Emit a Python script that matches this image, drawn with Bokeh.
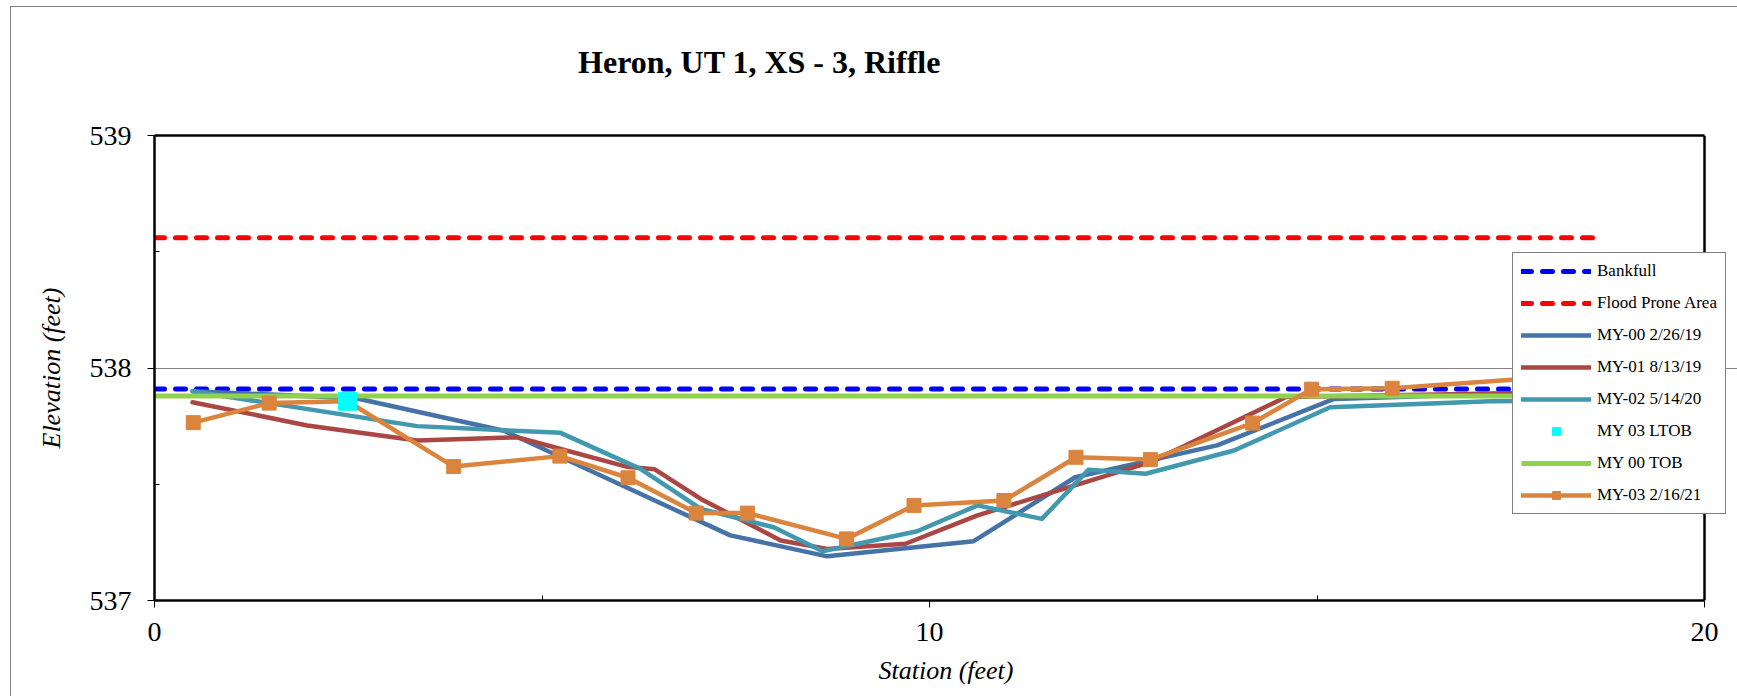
from bokeh.plotting import figure
from bokeh.layouts import column
from bokeh.models import (Range1d, FixedTicker, Legend, LegendItem, Span, LinearAxis)
from bokeh.core.properties import value
from bokeh.embed import file_html
from bokeh.resources import INLINE

TITLE = "Heron, UT 1, XS - 3, Riffle"
X_LABEL = "Station (feet)"
Y_LABEL = "Elevation (feet)"
x_ticks = [0, 10, 20]
x_minor = [5, 15]
y_ticks = [537, 538, 539]
y_minor = [537.5, 538.5]
X_MIN, X_MAX = 0, 20
Y_MIN, Y_MAX = 537, 539

bankfull_st = [0.0, 18.6]
bankfull_el = [537.91, 537.91]
flood_st = [0.0, 18.6]
flood_el = [538.56, 538.56]
tob_st = [0.0, 18.6]
tob_el = [537.88, 537.88]

my00_st = [0.49, 2.6, 4.51, 7.43, 8.68, 10.57, 11.88, 13.71, 15.22, 18.4]
my00_el = [537.90, 537.87, 537.73, 537.28, 537.19, 537.255, 537.53, 537.667, 537.867, 537.90]

my01_st = [0.49, 1.97, 3.39, 4.68, 6.1, 6.45, 7.05, 8.08, 8.68, 9.69, 10.62, 12.21, 12.85, 14.6, 18.4]
my01_el = [537.853, 537.753, 537.688, 537.702, 537.575, 537.565, 537.437, 537.258, 537.222, 537.244,
           537.366, 537.53, 537.595, 537.875, 537.896]

my02_st = [0.49, 3.39, 5.24, 6.27, 7.05, 7.99, 8.62, 9.84, 10.62, 11.45, 12.05, 12.79, 13.93, 15.17, 17.24, 18.4]
my02_el = [537.90, 537.75, 537.721, 537.566, 537.394, 537.315, 537.212, 537.298, 537.409, 537.351,
           537.562, 537.545, 537.645, 537.831, 537.857, 537.86]

my03_st = [0.50, 1.48, 2.49, 3.86, 5.23, 6.11, 6.99, 7.65, 8.93, 9.80, 10.96, 11.89, 12.85, 14.17,
           14.93, 15.97, 18.4]
my03_el = [537.765, 537.849, 537.857, 537.576, 537.621, 537.528, 537.376, 537.376, 537.265, 537.409,
           537.430, 537.616, 537.606, 537.763, 537.909, 537.913, 537.97]

ltob_st = [2.49]
ltob_el = [537.857]

C_BANK = "#0000FF"
C_FLOOD = "#FF0000"
C_00 = "#4572A7"
C_01 = "#AA4643"
C_02 = "#4198AF"
C_LTOB = "#00FFFF"
C_TOB = "#92D050"
C_03 = "#DB843D"
FONT = "Liberation Serif"

# layout (pixels)
W = 1726
HEAD_H = 72             # title strip height (title text sits on its bottom edge)
H = 617                 # chart height below the title strip
B_LEFT, B_RIGHT, B_TOP, B_BOTTOM = 143, 0, 56, 96
AXIS_PX = 1550          # pixels spanned by the 0..20 station axis
TITLE_X = 605           # title centre, pixels right of the plot box's left edge
frame_w = W - B_LEFT - B_RIGHT
px_per_unit = AXIS_PX / (X_MAX - X_MIN)
x_end = X_MIN + frame_w / px_per_unit

# ---- title strip (frame aligned with the chart's frame) ----
head = figure(width=W, height=HEAD_H, x_range=Range1d(0, frame_w), y_range=Range1d(0, HEAD_H),
              x_axis_type=None, y_axis_type=None, output_backend="svg", toolbar_location=None,
              title=None, min_border=0, min_border_left=B_LEFT, min_border_right=B_RIGHT,
              min_border_top=0, min_border_bottom=0)
head.outline_line_color = None
head.background_fill_color = "white"
head.border_fill_color = "white"
head.text(x=[TITLE_X], y=[0], text=[TITLE], text_font=value(FONT),
          text_font_size=value("32px"), text_font_style="bold", text_color="black",
          text_align="center", text_baseline="bottom")

# ---- chart ----
p = figure(width=W, height=H, x_range=Range1d(X_MIN, x_end), y_range=Range1d(Y_MIN, Y_MAX),
           output_backend="svg", toolbar_location=None, title=None,
           min_border_left=B_LEFT, min_border_right=B_RIGHT,
           min_border_top=B_TOP, min_border_bottom=B_BOTTOM)
p.background_fill_color = "white"
p.border_fill_color = "white"
p.outline_line_color = None

p.xaxis.ticker = FixedTicker(ticks=x_ticks, minor_ticks=x_minor)
p.yaxis.ticker = FixedTicker(ticks=y_ticks, minor_ticks=y_minor)
p.xaxis.bounds = (X_MIN, X_MAX)
p.xgrid.visible = False
p.ygrid.ticker = FixedTicker(ticks=y_ticks)
p.ygrid.bounds = (X_MIN, X_MAX)
p.ygrid.grid_line_color = "#868686"
p.ygrid.grid_line_width = 1

for ax in p.axis:
    ax.axis_line_color = "black"
    ax.axis_line_width = 2.5
    ax.major_tick_line_color = "black"
    ax.major_tick_line_width = 1
    ax.minor_tick_line_color = "black"
    ax.minor_tick_line_width = 1
    ax.major_tick_in = 0
    ax.major_tick_out = 7
    ax.minor_tick_in = 5
    ax.minor_tick_out = 0
    ax.major_label_text_font = FONT
    ax.major_label_text_font_size = "28px"
    ax.major_label_text_color = "black"
    ax.axis_label_text_font = FONT
    ax.axis_label_text_font_size = "26px"
    ax.axis_label_text_font_style = "italic"
    ax.axis_label_text_color = "black"

p.xaxis.axis_label = X_LABEL
p.yaxis.axis_label = Y_LABEL
p.xaxis.major_label_standoff = 15
p.xaxis.axis_label_standoff = 12
p.yaxis.major_label_standoff = 16
p.yaxis.axis_label_standoff = 21

# top edge of the plot box
top_axis = LinearAxis(ticker=FixedTicker(ticks=[]), bounds=(X_MIN, X_MAX),
                      axis_line_color="black", axis_line_width=2.5,
                      major_tick_out=0, major_tick_in=0, minor_tick_out=0, minor_tick_in=0,
                      major_label_standoff=0, major_label_text_font_size="0px")
p.add_layout(top_axis, "above")

# right edge of the plot box
p.add_layout(Span(location=X_MAX, dimension="height", line_color="black", line_width=2.5))

# data renderers
LW = 4.5
r_bank = p.line(bankfull_st, bankfull_el, line_color=C_BANK, line_width=5, line_dash="10 11", line_cap="round")
r_flood = p.line(flood_st, flood_el, line_color=C_FLOOD, line_width=5, line_dash="10 11", line_cap="round")
r_00 = p.line(my00_st, my00_el, line_color=C_00, line_width=LW, line_join="round", line_cap="round")
r_01 = p.line(my01_st, my01_el, line_color=C_01, line_width=LW, line_join="round", line_cap="round")
r_02 = p.line(my02_st, my02_el, line_color=C_02, line_width=LW, line_join="round", line_cap="round")
r_tob = p.line(tob_st, tob_el, line_color=C_TOB, line_width=5)
r_03 = p.line(my03_st, my03_el, line_color=C_03, line_width=LW, line_join="round", line_cap="round")
p.scatter(my03_st, my03_el, marker="square", size=14, fill_color=C_03, line_color=C_03)
p.scatter(ltob_st, ltob_el, marker="square", size=18, fill_color=C_LTOB, line_color=C_LTOB)

# legend-sized marker proxies (no visible points)
nan = float("nan")
lg_ltob = p.scatter([nan], [nan], marker="square", size=8, fill_color=C_LTOB, line_color=C_LTOB)
lg_03m = p.scatter([nan], [nan], marker="square", size=8, fill_color=C_03, line_color=C_03)

legend = Legend(items=[
    LegendItem(label="Bankfull", renderers=[r_bank]),
    LegendItem(label="Flood Prone Area", renderers=[r_flood]),
    LegendItem(label="MY-00 2/26/19", renderers=[r_00]),
    LegendItem(label="MY-01 8/13/19", renderers=[r_01]),
    LegendItem(label="MY-02 5/14/20", renderers=[r_02]),
    LegendItem(label="MY 03 LTOB", renderers=[lg_ltob]),
    LegendItem(label="MY 00 TOB", renderers=[r_tob]),
    LegendItem(label="MY-03 2/16/21", renderers=[r_03, lg_03m]),
], location=(1358, 86))
legend.border_line_color = "black"
legend.border_line_width = 1.5
legend.background_fill_color = "white"
legend.background_fill_alpha = 1.0
legend.label_text_font = FONT
legend.label_text_font_size = "17px"
legend.label_text_color = "black"
legend.glyph_width = 70
legend.glyph_height = 20
legend.label_height = 20
legend.label_standoff = 6
legend.spacing = 12
legend.padding = 8
legend.margin = 0
p.add_layout(legend)

page = column(head, p, spacing=0)
page.styles = {"margin-left": "10px", "margin-top": "6px",
               "border-left": "1px solid #7f7f7f", "border-top": "1px solid #7f7f7f"}

open("out.html", "w").write(file_html(page, INLINE))
